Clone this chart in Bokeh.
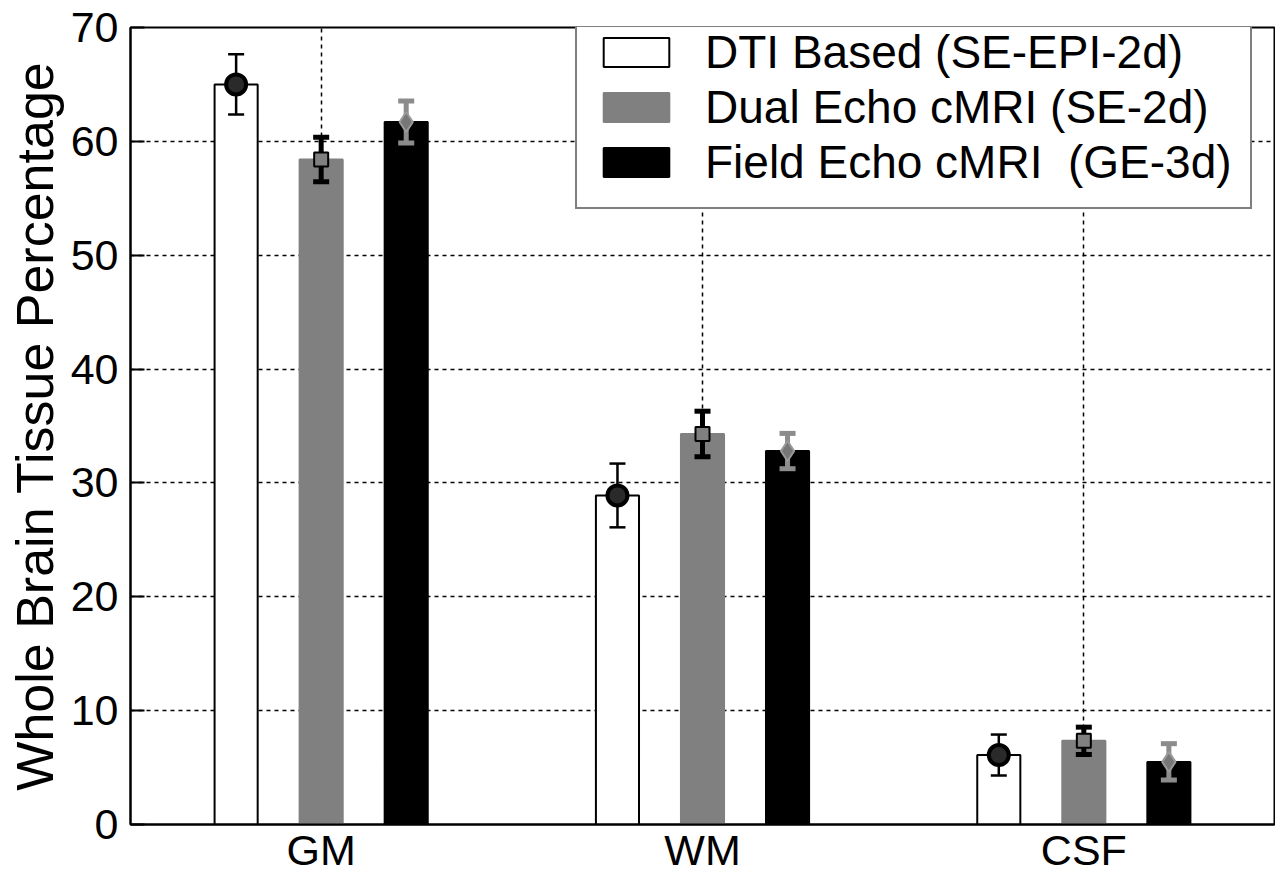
from bokeh.plotting import figure
from bokeh.models import FixedTicker, Range1d, Legend, LegendItem
from bokeh.embed import file_html
from bokeh.resources import INLINE

# ---- data ----
categories = ["GM", "WM", "CSF"]
series_names = ["DTI Based (SE-EPI-2d)", "Dual Echo cMRI (SE-2d)", "Field Echo cMRI  (GE-3d)"]
dti_mean = [65.0, 28.9, 6.1]
dti_err = [2.65, 2.8, 1.8]
dual_mean = [58.4, 34.3, 7.35]
dual_err = [1.95, 2.0, 1.2]
field_mean = [61.7, 32.8, 5.5]
field_err = [1.85, 1.55, 1.6]
y_ticks = [0, 10, 20, 30, 40, 50, 60, 70]

FONT = "Liberation Sans"
offsets = [-0.223, 0.0, 0.223]
bar_w = 0.113
cap_w = 0.042

p = figure(width=1275, height=876, output_backend="svg", toolbar_location=None,
           x_range=Range1d(0.5, 3.5), y_range=Range1d(0, 70),
           min_border_left=130, min_border_right=1, min_border_top=27, min_border_bottom=48)

xc = [i + 1 for i in range(len(categories))]

styles = [
    dict(fill="white", line="black", err_col="black", err_w=2.5),
    dict(fill="#808080", line="#808080", err_col="black", err_w=5),
    dict(fill="black", line="black", err_col="#8c8c8c", err_w=5),
]
means = [dti_mean, dual_mean, field_mean]
errs = [dti_err, dual_err, field_err]

bar_renderers = []
for k in range(3):
    xs = [x + offsets[k] for x in xc]
    st = styles[k]
    r = p.vbar(x=xs, top=means[k], width=bar_w, bottom=0,
               fill_color=st["fill"], line_color=st["line"], line_width=2)
    bar_renderers.append(r)

for k in range(3):
    xs = [x + offsets[k] for x in xc]
    st = styles[k]
    lo = [m - e for m, e in zip(means[k], errs[k])]
    hi = [m + e for m, e in zip(means[k], errs[k])]
    p.segment(x0=xs, y0=lo, x1=xs, y1=hi, line_color=st["err_col"], line_width=st["err_w"])
    p.segment(x0=[x - cap_w / 2 for x in xs], y0=lo, x1=[x + cap_w / 2 for x in xs], y1=lo,
              line_color=st["err_col"], line_width=st["err_w"])
    p.segment(x0=[x - cap_w / 2 for x in xs], y0=hi, x1=[x + cap_w / 2 for x in xs], y1=hi,
              line_color=st["err_col"], line_width=st["err_w"])
    if k == 0:
        p.scatter(x=xs, y=means[k], marker="circle", size=20, fill_color="#2a2a2a",
                  line_color="black", line_width=4)
    elif k == 1:
        p.scatter(x=xs, y=means[k], marker="square", size=14, fill_color="#808080",
                  line_color="black", line_width=2)
    else:
        p.scatter(x=xs, y=means[k], marker="diamond", size=20, fill_color="#777777",
                  line_color="#9a9a9a", line_width=2)

# axes
p.xaxis.ticker = FixedTicker(ticks=xc)
p.xaxis.major_label_overrides = {x: c for x, c in zip(xc, categories)}
p.yaxis.ticker = FixedTicker(ticks=y_ticks)
for ax in [p.xaxis[0], p.yaxis[0]]:
    ax.major_label_text_font = FONT
    ax.major_label_text_font_size = "43px"
    ax.major_label_text_color = "black"
    ax.axis_line_color = "black"
    ax.axis_line_width = 2
    ax.major_tick_line_color = "black"
    ax.major_tick_line_width = 2
    ax.major_tick_out = 0
    ax.minor_tick_line_color = None
p.xaxis.major_tick_in = 0
p.xaxis.major_label_standoff = 1
p.yaxis.major_tick_in = 14
p.yaxis.major_label_standoff = 12
p.yaxis.axis_label = "Whole Brain Tissue Percentage"
p.yaxis.axis_label_text_font = FONT
p.yaxis.axis_label_text_font_size = "52px"
p.yaxis.axis_label_text_font_style = "normal"
p.yaxis.axis_label_text_color = "black"
p.yaxis.axis_label_standoff = 4

# grid
p.xgrid.ticker = FixedTicker(ticks=xc)
p.ygrid.ticker = FixedTicker(ticks=y_ticks)
for g in [p.xgrid[0], p.ygrid[0]]:
    g.grid_line_color = "black"
    g.grid_line_width = 1.5
    g.grid_line_dash = "4 4"
    g.grid_line_alpha = 1.0

p.outline_line_color = "black"
p.outline_line_width = 2
p.outline_line_alpha = 1.0
p.background_fill_color = "white"
p.border_fill_color = "white"

legend = Legend(items=[LegendItem(label=series_names[k], renderers=[bar_renderers[k]]) for k in range(3)],
                location=(445, 615))
legend.label_text_font = FONT
legend.label_text_font_size = "46px"
legend.label_text_color = "black"
legend.glyph_width = 82
legend.glyph_height = 36
legend.label_standoff = 28
legend.spacing = 1
legend.padding = 18
legend.margin = 0
legend.border_line_color = "black"
legend.border_line_width = 2
legend.background_fill_alpha = 1.0
p.add_layout(legend)

open("out.html", "w").write(file_html(p, INLINE))
